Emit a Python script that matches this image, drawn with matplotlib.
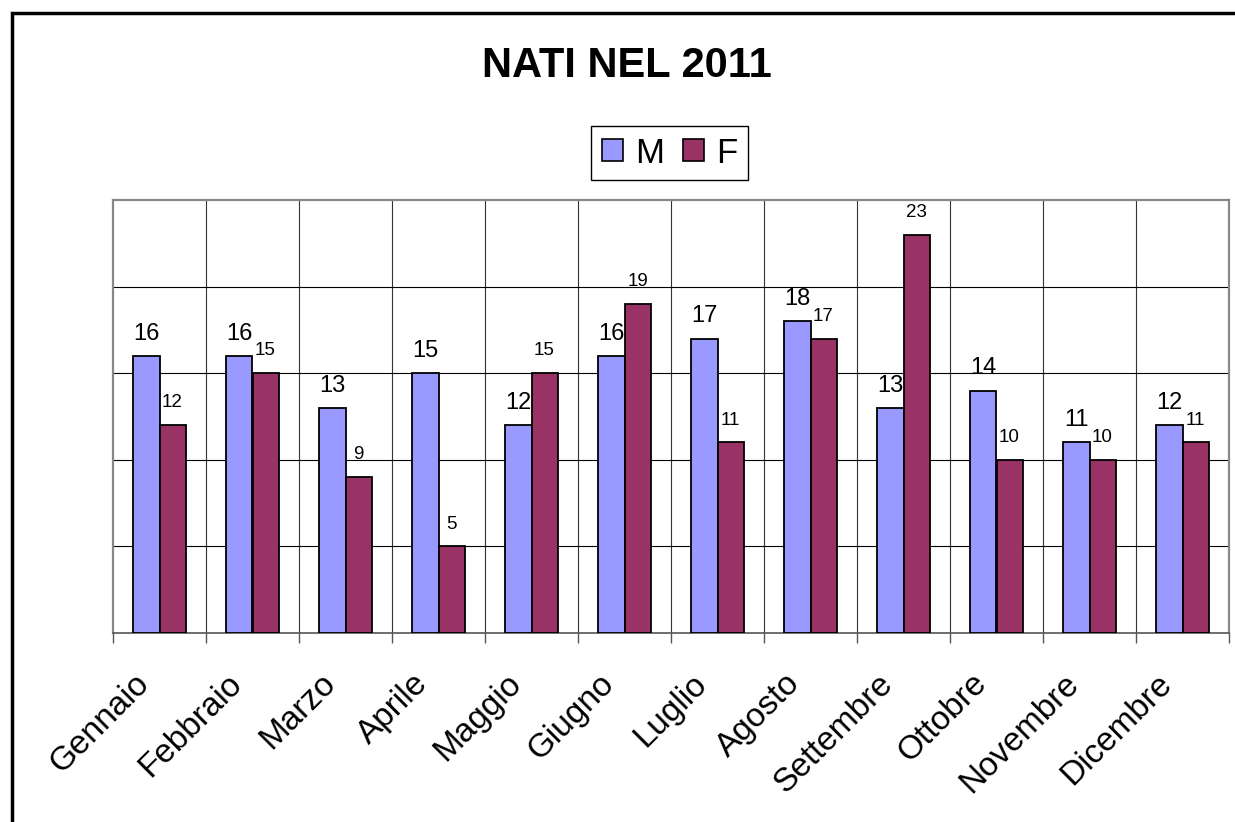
import matplotlib
matplotlib.use('Agg')
import matplotlib.pyplot as plt
import matplotlib.transforms as mtransforms
from matplotlib.patches import Rectangle, Patch
import numpy as np

plt.rcParams['font.family'] = ['Liberation Sans', 'DejaVu Sans']

mesi = ['Gennaio', 'Febbraio', 'Marzo', 'Aprile', 'Maggio', 'Giugno',
        'Luglio', 'Agosto', 'Settembre', 'Ottobre', 'Novembre', 'Dicembre']
maschi = [16, 16, 13, 15, 12, 16, 17, 18, 13, 14, 11, 12]
femmine = [12, 15, 9, 5, 15, 19, 11, 17, 23, 10, 10, 11]

col_m = '#9999FF'
col_f = '#993366'

fig = plt.figure(figsize=(12.35, 8.22), dpi=100)
ax = fig.add_axes([113 / 1235, 1 - 633 / 822, 1116 / 1235, 433 / 822])

x = np.arange(len(mesi))
w = 0.28
bars_m = ax.bar(x - w / 2, maschi, w, color=col_m, edgecolor='black', linewidth=1.3, zorder=3)
bars_f = ax.bar(x + w / 2, femmine, w, color=col_f, edgecolor='black', linewidth=1.3, zorder=3)

# etichette dei valori
for b, v in zip(bars_m, maschi):
    ax.annotate(str(v), (b.get_x() + b.get_width() / 2, v), xytext=(0, 8),
                textcoords='offset points', ha='center', va='bottom', fontsize=17, zorder=4)
for b, v in zip(bars_f, femmine):
    ax.annotate(str(v), (b.get_x() + b.get_width() / 2, v), xytext=(0, 10),
                textcoords='offset points', ha='center', va='bottom', fontsize=13.5, zorder=4)

ax.set_xlim(-0.5, len(mesi) - 0.5)
ax.set_ylim(0, 25)

# griglia
ax.set_yticks([5, 10, 15, 20])
ax.set_yticklabels([])
ax.tick_params(axis='y', length=0)
ax.yaxis.grid(True, color='black', linewidth=0.8, zorder=1)
for b in np.arange(0.5, len(mesi) - 1, 1):
    ax.axvline(b, color='#333333', linewidth=0.8, zorder=1)

ax.set_xticks(x)
ax.set_xticklabels(mesi, rotation=45, ha='right', va='center', rotation_mode='anchor', fontsize=24)
ax.tick_params(axis='x', which='major', length=0, pad=33)
ax.set_xticks(np.arange(-0.5, len(mesi), 1), minor=True)
ax.tick_params(axis='x', which='minor', length=7, color='#555555', width=1)
shift = mtransforms.ScaledTranslation(-15 / 100, 0, fig.dpi_scale_trans)
for lab in ax.get_xticklabels():
    lab.set_transform(lab.get_transform() + shift)

for s in ['left', 'top', 'right']:
    ax.spines[s].set_color('#888888')
    ax.spines[s].set_linewidth(1.6)
ax.spines['bottom'].set_color('#555555')
ax.spines['bottom'].set_linewidth(1.2)

fig.text(627 / 1235, 1 - 66 / 822, 'NATI NEL 2011', ha='center', va='center',
         fontsize=30, fontweight='bold')

handles = [Patch(facecolor=col_m, edgecolor='black', linewidth=1.2, label='M'),
           Patch(facecolor=col_f, edgecolor='black', linewidth=1.2, label='F')]
leg = fig.legend(handles=handles, loc='center', bbox_to_anchor=(669.5 / 1235, 1 - 153 / 822),
                 ncol=2, fontsize=25, frameon=True, fancybox=False, edgecolor='black',
                 framealpha=1, handlelength=0.6, handleheight=0.6, handletextpad=0.35,
                 columnspacing=0.55, borderpad=0.3)
leg.get_frame().set_linewidth(1.0)

# cornice del grafico
fig.patches.append(Rectangle((12 / 1235, -0.1), 1.2, 1 - 13 / 822 + 0.1, transform=fig.transFigure,
                             fill=False, edgecolor='black', linewidth=2.5, zorder=0))

fig.savefig('out.png', dpi=100, facecolor='white')
